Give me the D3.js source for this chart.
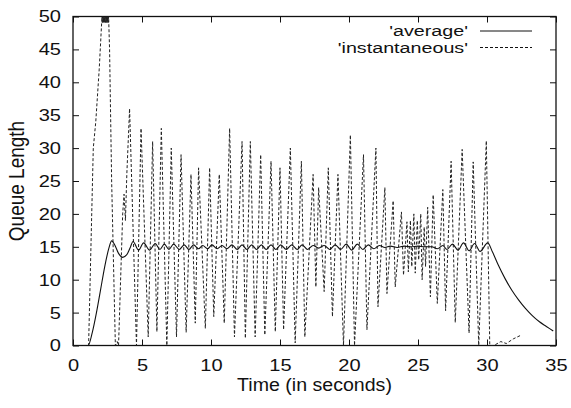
<!DOCTYPE html>
<html>
<head>
<meta charset="utf-8">
<script src="https://cdn.jsdelivr.net/npm/d3@7"></script>
<style>
  body { margin: 0; background: #fff; }
  svg text { font-family: "Liberation Sans", Arial, Helvetica, sans-serif; fill: #111; }
  .tick text { transform-box: fill-box; transform: scaleX(1.18); }
  .x-ticks .tick text { transform-origin: center; }
  .y-ticks .tick text { transform-origin: right center; }
  .legend text { transform-box: fill-box; transform-origin: right center; transform: scaleX(1.36); }
  .x-title { transform-box: fill-box; transform-origin: center; transform: scaleX(1.12); }
</style>
</head>
<body>
<svg id="chart" width="571" height="408"></svg>
<script>
// tick values
const xTicks = [0, 5, 10, 15, 20, 25, 30, 35];
const yTicks = [0, 5, 10, 15, 20, 25, 30, 35, 40, 45, 50];

// legend labels
const seriesNames = ["'average'", "'instantaneous'"];

// average queue length [time, length]
const average = [
  [0, 0], [1.1, 0], [1.4, 2], [1.7, 5], [2.0, 8.5], [2.3, 12], [2.6, 14.8], [2.8, 15.9],
  [3.0, 15.4], [3.3, 14.0], [3.6, 13.4], [3.9, 13.8], [4.15, 14.9], [4.35, 15.8], [4.75, 14.5],
  [5.12, 15.6], [5.55, 14.5], [5.96, 15.5], [6.3, 14.6], [6.62, 15.4], [6.95, 14.6], [7.29, 15.4],
  [7.7, 14.6], [8.06, 15.3], [8.4, 14.6], [8.74, 15.3], [9.1, 14.7], [9.4, 15.2], [9.75, 14.7],
  [10.07, 15.3], [10.45, 14.7], [10.8, 15.2], [11.15, 14.7], [11.52, 15.3], [11.9, 14.6],
  [12.25, 15.3], [12.6, 14.6], [12.95, 15.3], [13.3, 14.6], [13.65, 15.3], [14.0, 14.6],
  [14.35, 15.3], [14.7, 14.6], [15.05, 15.3], [15.45, 14.6], [15.85, 15.3], [16.25, 14.6],
  [16.6, 15.3], [17.0, 14.6], [17.4, 15.2], [17.8, 14.8], [18.2, 15.2], [18.6, 14.6], [19.0, 15.3],
  [19.4, 14.6], [19.8, 15.4], [20.2, 14.5], [20.6, 15.4], [21.0, 14.6], [21.4, 15.3], [21.8, 14.7],
  [22.2, 15.2], [22.6, 14.9], [23.0, 15.1], [23.5, 14.9], [24.0, 15.1], [24.5, 15.0], [25.0, 15.1],
  [25.5, 15.0], [26.0, 15.0], [26.4, 14.7], [26.8, 15.2], [27.1, 14.6], [27.5, 15.4], [27.9, 14.5],
  [28.3, 15.6], [28.7, 14.4], [29.1, 15.5], [29.5, 14.3], [30.05, 15.6], [30.4, 14.2], [30.8, 12.3],
  [31.3, 10.2], [31.8, 8.4], [32.3, 6.9], [32.8, 5.6], [33.3, 4.5], [33.8, 3.6], [34.3, 2.9], [34.8, 2.2]
];

// instantaneous queue length [time, length]
const instantaneous = [
  [0, 0], [1.13, 0], [1.47, 30], [1.65, 34], [1.9, 42], [2.1, 50], [2.12, 49.1], [2.14, 50],
  [2.16, 49.1], [2.18, 50], [2.2, 49.1], [2.22, 50], [2.24, 49.1], [2.26, 50], [2.28, 49.1],
  [2.3, 50], [2.32, 49.1], [2.34, 50], [2.36, 49.1], [2.38, 50], [2.4, 49.1], [2.42, 50],
  [2.44, 49.1], [2.46, 50], [2.48, 49.1], [2.5, 50], [2.52, 49.1], [2.54, 50], [2.56, 49.1],
  [2.58, 50], [2.65, 45],
  [2.8, 25], [3.07, 0], [3.2, 0.6], [3.3, 0], [3.6, 20], [3.7, 23], [3.8, 19], [3.9, 26], [4.1, 36],
  [4.6, 0], [4.93, 33], [5.45, 1.3], [5.77, 31], [6.08, 2.1], [6.4, 33], [6.8, 0], [7.12, 30],
  [7.5, 1.3], [7.83, 29], [8.2, 2], [8.55, 26], [8.86, 3.4], [9.1, 27], [9.59, 2.6], [9.9, 27],
  [10.2, 4.4], [10.6, 26], [10.96, 3.4], [11.35, 33], [11.7, 1.3], [12.25, 31], [12.49, 1.1],
  [12.85, 31], [13.2, 1.3], [13.6, 29], [13.9, 1.6], [14.35, 28], [14.66, 2.1], [15.0, 27],
  [15.26, 2.4], [15.75, 30], [16.1, 0.4], [16.55, 28], [16.8, 1.3], [17.4, 26], [17.6, 8.9],
  [17.8, 24], [18.2, 8.2], [18.5, 27], [18.8, 4.4], [19.2, 26], [19.6, 0], [20.1, 32], [20.4, 0],
  [21.05, 29], [21.3, 2.4], [21.95, 30], [22.1, 5.9], [22.6, 24], [22.75, 7.9], [23.2, 22],
  [23.35, 8.9], [23.8, 20.3], [23.95, 10.7], [24.2, 18.8], [24.3, 11.2], [24.45, 19], [24.55, 12],
  [24.7, 20], [24.8, 11], [24.95, 19], [25.05, 13], [25.2, 20], [25.3, 10], [25.45, 18], [25.55, 12],
  [25.7, 21], [25.9, 7.4], [26.1, 22.9], [26.4, 6.4], [26.8, 23.7], [27.0, 5.3], [27.4, 28],
  [27.7, 3.5], [28.2, 29.8], [28.7, 1.9], [29.0, 27.9], [29.4, 0], [29.95, 31.1], [30.2, 0],
  [30.5, 0], [31.0, 0.6], [31.4, 0.3], [31.9, 1.0], [32.4, 1.5]
];

const svg = d3.select('#chart');
const margin = { left: 73, right: 15, top: 16.5, bottom: 62.5 };
const width = 571 - margin.left - margin.right;
const height = 408 - margin.top - margin.bottom;

const x = d3.scaleLinear().domain([0, 35]).range([0, width]);
const y = d3.scaleLinear().domain([0, 50]).range([height, 0]);

const g = svg.append('g').attr('transform', `translate(${margin.left},${margin.top})`);

g.append('clipPath').attr('id', 'plot-clip')
  .append('rect').attr('width', width).attr('height', height);

// axes, ticks pointing inward and mirrored on top and right
const axisStyle = (sel) => {
  sel.select('.domain').remove();
  sel.selectAll('line').attr('stroke', '#111');
  sel.selectAll('text').attr('font-size', 17).attr('fill', '#111');
};

g.append('g')
  .attr('class', 'x-ticks')
  .attr('transform', `translate(0,${height})`)
  .call(d3.axisBottom(x).tickValues(xTicks).tickSizeInner(-6).tickSizeOuter(0).tickPadding(13))
  .call(axisStyle);

g.append('g')
  .attr('class', 'y-ticks')
  .call(d3.axisLeft(y).tickValues(yTicks).tickSizeInner(-6).tickSizeOuter(0).tickPadding(12))
  .call(axisStyle);

g.append('g')
  .call(d3.axisTop(x).tickValues(xTicks).tickSizeInner(-6).tickSizeOuter(0).tickFormat(''))
  .call(axisStyle);

g.append('g')
  .attr('transform', `translate(${width},0)`)
  .call(d3.axisRight(y).tickValues(yTicks).tickSizeInner(-6).tickSizeOuter(0).tickFormat(''))
  .call(axisStyle);

g.append('rect')
  .attr('width', width).attr('height', height)
  .attr('fill', 'none').attr('stroke', '#111').attr('stroke-width', 1.3);

// lines
const line = d3.line().x((d) => x(d[0])).y((d) => y(d[1]));
const smooth = d3.line().curve(d3.curveMonotoneX).x((d) => x(d[0])).y((d) => y(d[1]));

const plot = g.append('g').attr('clip-path', 'url(#plot-clip)');

plot.append('path')
  .attr('d', line(instantaneous))
  .attr('fill', 'none').attr('stroke', '#222').attr('stroke-width', 1)
  .attr('stroke-dasharray', '3,2');

plot.append('path')
  .attr('d', smooth(average))
  .attr('fill', 'none').attr('stroke', '#111').attr('stroke-width', 1.1);

// legend
const legend = g.append('g').attr('class', 'legend').attr('transform', `translate(${width - 88},14.5)`);
seriesNames.forEach((name, i) => {
  const row = legend.append('g').attr('transform', `translate(0,${i * 16.5})`);
  row.append('text')
    .attr('x', 0).attr('dy', '0.35em')
    .attr('text-anchor', 'end').attr('font-size', 14.5)
    .text(name);
  row.append('line')
    .attr('x1', 12).attr('x2', 64)
    .attr('stroke', '#111').attr('stroke-width', 1)
    .attr('stroke-dasharray', i === 0 ? null : '3,2');
});

// axis titles
svg.append('text')
  .attr('class', 'x-title')
  .attr('x', margin.left + width / 2).attr('y', 391)
  .attr('text-anchor', 'middle').attr('font-size', 17.5)
  .text('Time (in seconds)');

svg.append('text')
  .attr('transform', `translate(24,${margin.top + height / 2}) rotate(-90) scale(1,1.18)`)
  .attr('text-anchor', 'middle').attr('font-size', 19)
  .text('Queue Length');
</script>
</body>
</html>
